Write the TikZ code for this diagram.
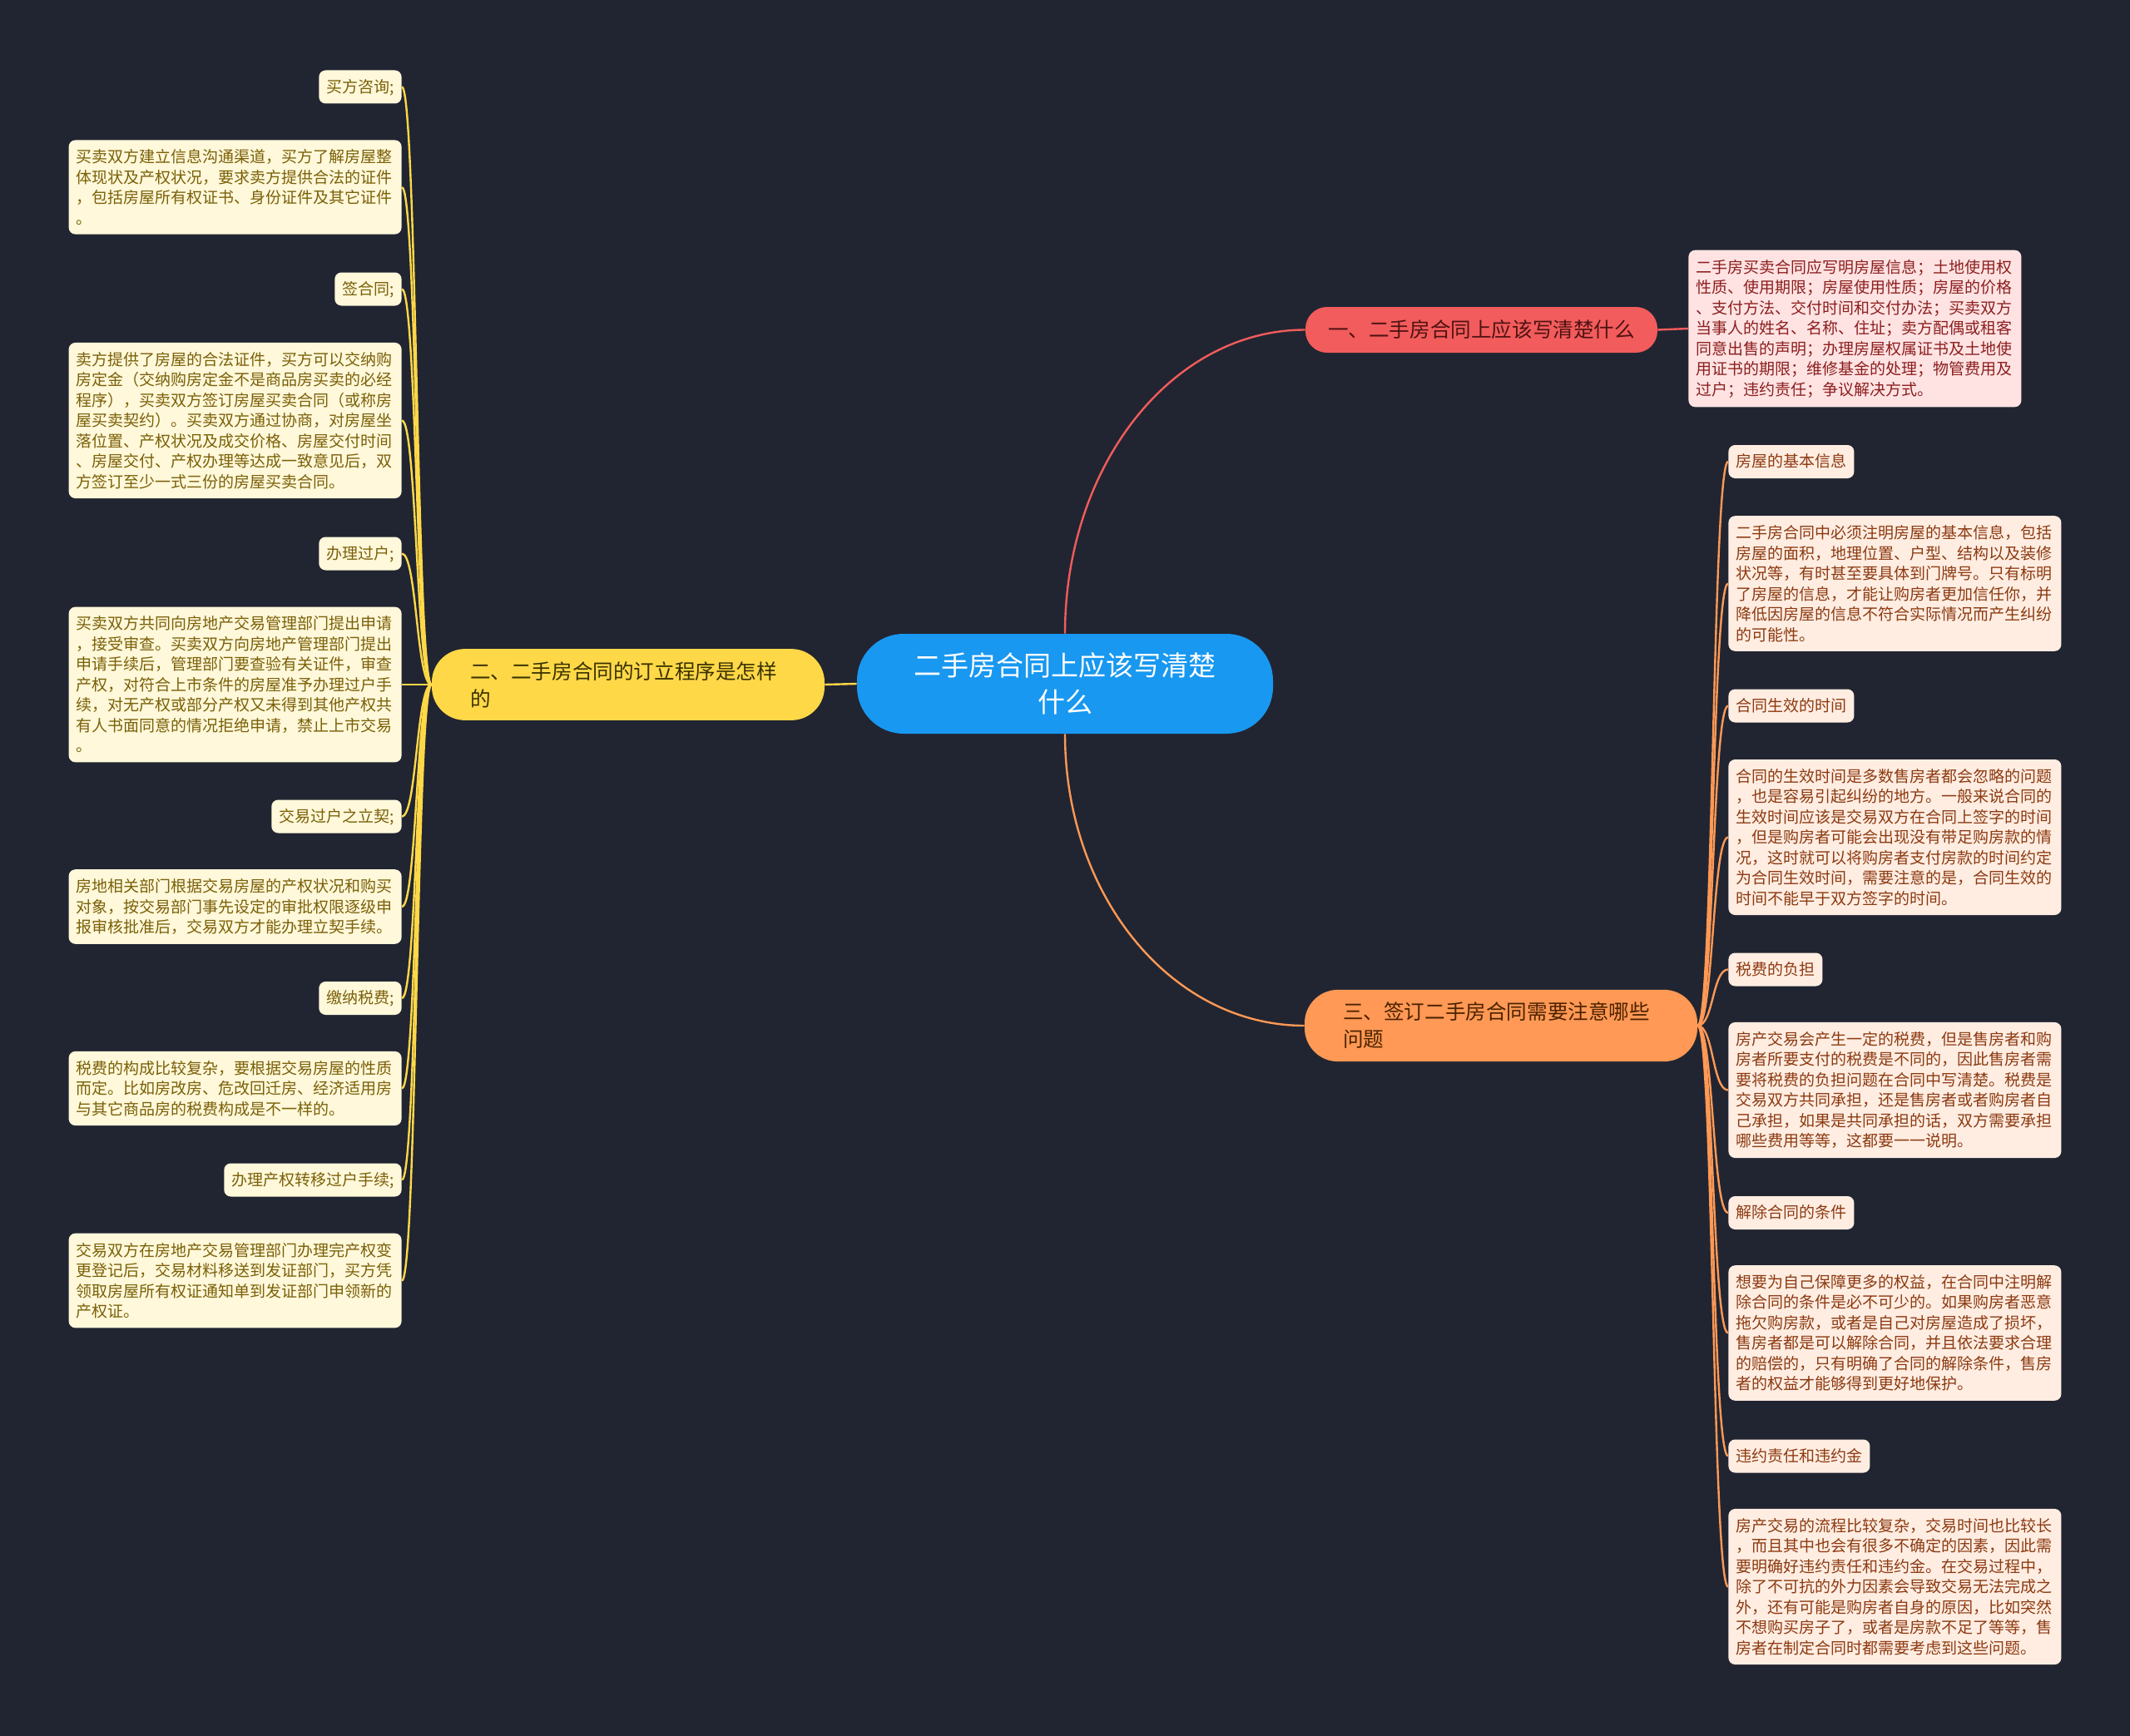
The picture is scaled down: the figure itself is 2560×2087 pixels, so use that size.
\documentclass[tikz,border=0pt]{standalone}
\usepackage{fontspec}
\setmainfont{Noto Sans CJK SC}

\definecolor{bg}{RGB}{33,37,49}
\definecolor{rootblue}{RGB}{24,152,240}
\definecolor{redtopic}{RGB}{242,92,92}
\definecolor{redleaf}{RGB}{255,227,227}
\definecolor{redtext}{RGB}{140,30,30}
\definecolor{yeltopic}{RGB}{255,216,72}
\definecolor{yelleaf}{RGB}{255,248,218}
\definecolor{yeltext}{RGB}{122,96,8}
\definecolor{orgtopic}{RGB}{255,153,85}
\definecolor{orgleaf}{RGB}{255,237,226}
\definecolor{orgtext}{RGB}{140,58,16}

\tikzset{
  rootbox/.style={fill=rootblue, text=white, rounded corners=28pt,
    minimum width=250pt, minimum height=60pt, align=center,
    font=\fontsize{16.5pt}{22pt}\selectfont},
  topic/.style={rounded corners=13pt, inner xsep=13.5pt, inner ysep=7.6pt,
    text height=10.8pt, text depth=1.5pt,
    font=\fontsize{12.3pt}{16.5pt}\selectfont},
  widetopic/.style={rounded corners=20pt, inner xsep=23pt, inner ysep=7.6pt,
    text width=190pt, align=left,
    font=\fontsize{12.3pt}{16.5pt}\selectfont},
  leaf/.style={rounded corners=4pt, inner xsep=4.5pt,
    font=\fontsize{9.5pt}{12.25pt}\selectfont},
  tag/.style={leaf, inner ysep=5pt, text height=8.4pt, text depth=1.6pt},
  note/.style={leaf, inner ysep=5.6pt, text width=191pt, align=left},
  ytag/.style={tag, fill=yelleaf, text=yeltext},
  ynote/.style={note, fill=yelleaf, text=yeltext},
  otag/.style={tag, fill=orgleaf, text=orgtext},
  onote/.style={note, fill=orgleaf, text=orgtext},
  link/.style={line width=1.2pt},
}

\begin{document}
\begin{tikzpicture}[x=0.5pt, y=-0.5pt]
  \useasboundingbox (0,0) rectangle (2560,2087);
  \fill[bg] (0,0) rectangle (2560,2087);

  % centre and main topics
  \node[rootbox] (root) at (1280,822) {二手房合同上应该写清楚\\什么};
  \node[topic, fill=redtopic, text={rgb,255:red,80;green,18;blue,18}] (t1) at (1780.5,396.5) {一、二手房合同上应该写清楚什么};
  \node[widetopic, fill=yeltopic, text={rgb,255:red,58;green,50;blue,0}] (t2) at (755,823) {二、二手房合同的订立程序是怎样\\的};
  \node[widetopic, fill=orgtopic, text={rgb,255:red,76;green,34;blue,0}] (t3) at (1804,1233) {三、签订二手房合同需要注意哪些\\问题};

  % topic one
  \node[note, fill=redleaf, text=redtext, anchor=west] (r1) at (2029,395) {二手房买卖合同应写明房屋信息；土地使用权\\性质、使用期限；房屋使用性质；房屋的价格\\、支付方法、交付时间和交付办法；买卖双方\\当事人的姓名、名称、住址；卖方配偶或租客\\同意出售的声明；办理房屋权属证书及土地使\\用证书的期限；维修基金的处理；物管费用及\\过户；违约责任；争议解决方式。};

  % topic two
  \node[ytag, anchor=east] (s1) at (483,104.5) {买方咨询;};
  \node[ynote, anchor=east] (s1d) at (483,225) {买卖双方建立信息沟通渠道，买方了解房屋整\\体现状及产权状况，要求卖方提供合法的证件\\，包括房屋所有权证书、身份证件及其它证件\\。};
  \node[ytag, anchor=east] (s2) at (483,347.5) {签合同;};
  \node[ynote, anchor=east] (s2d) at (483,505.5) {卖方提供了房屋的合法证件，买方可以交纳购\\房定金（交纳购房定金不是商品房买卖的必经\\程序），买卖双方签订房屋买卖合同（或称房\\屋买卖契约）。买卖双方通过协商，对房屋坐\\落位置、产权状况及成交价格、房屋交付时间\\、房屋交付、产权办理等达成一致意见后，双\\方签订至少一式三份的房屋买卖合同。};
  \node[ytag, anchor=east] (s3) at (483,665.5) {办理过户;};
  \node[ynote, anchor=east] (s3d) at (483,823) {买卖双方共同向房地产交易管理部门提出申请\\，接受审查。买卖双方向房地产管理部门提出\\申请手续后，管理部门要查验有关证件，审查\\产权，对符合上市条件的房屋准予办理过户手\\续，对无产权或部分产权又未得到其他产权共\\有人书面同意的情况拒绝申请，禁止上市交易\\。};
  \node[ytag, anchor=east] (s4) at (483,981.5) {交易过户之立契;};
  \node[ynote, anchor=east] (s4d) at (483,1090) {房地相关部门根据交易房屋的产权状况和购买\\对象，按交易部门事先设定的审批权限逐级申\\报审核批准后，交易双方才能办理立契手续。};
  \node[ytag, anchor=east] (s5) at (483,1200) {缴纳税费;};
  \node[ynote, anchor=east] (s5d) at (483,1308.5) {税费的构成比较复杂，要根据交易房屋的性质\\而定。比如房改房、危改回迁房、经济适用房\\与其它商品房的税费构成是不一样的。};
  \node[ytag, anchor=east] (s6) at (483,1418.5) {办理产权转移过户手续;};
  \node[ynote, anchor=east] (s6d) at (483,1539.5) {交易双方在房地产交易管理部门办理完产权变\\更登记后，交易材料移送到发证部门，买方凭\\领取房屋所有权证通知单到发证部门申领新的\\产权证。};

  % topic three
  \node[otag, anchor=west] (p1) at (2077,555) {房屋的基本信息};
  \node[onote, anchor=west] (p1d) at (2077,701.5) {二手房合同中必须注明房屋的基本信息，包括\\房屋的面积，地理位置、户型、结构以及装修\\状况等，有时甚至要具体到门牌号。只有标明\\了房屋的信息，才能让购房者更加信任你，并\\降低因房屋的信息不符合实际情况而产生纠纷\\的可能性。};
  \node[otag, anchor=west] (p2) at (2077,848.5) {合同生效的时间};
  \node[onote, anchor=west] (p2d) at (2077,1006.5) {合同的生效时间是多数售房者都会忽略的问题\\，也是容易引起纠纷的地方。一般来说合同的\\生效时间应该是交易双方在合同上签字的时间\\，但是购房者可能会出现没有带足购房款的情\\况，这时就可以将购房者支付房款的时间约定\\为合同生效时间，需要注意的是，合同生效的\\时间不能早于双方签字的时间。};
  \node[otag, anchor=west] (p3) at (2077,1165.5) {税费的负担};
  \node[onote, anchor=west] (p3d) at (2077,1310.5) {房产交易会产生一定的税费，但是售房者和购\\房者所要支付的税费是不同的，因此售房者需\\要将税费的负担问题在合同中写清楚。税费是\\交易双方共同承担，还是售房者或者购房者自\\己承担，如果是共同承担的话，双方需要承担\\哪些费用等等，这都要一一说明。};
  \node[otag, anchor=west] (p4) at (2077,1458) {解除合同的条件};
  \node[onote, anchor=west] (p4d) at (2077,1602.5) {想要为自己保障更多的权益，在合同中注明解\\除合同的条件是必不可少的。如果购房者恶意\\拖欠购房款，或者是自己对房屋造成了损坏，\\售房者都是可以解除合同，并且依法要求合理\\的赔偿的，只有明确了合同的解除条件，售房\\者的权益才能够得到更好地保护。};
  \node[otag, anchor=west] (p5) at (2077,1750.5) {违约责任和违约金};
  \node[onote, anchor=west] (p5d) at (2077,1907.5) {房产交易的流程比较复杂，交易时间也比较长\\，而且其中也会有很多不确定的因素，因此需\\要明确好违约责任和违约金。在交易过程中，\\除了不可抗的外力因素会导致交易无法完成之\\外，还有可能是购房者自身的原因，比如突然\\不想购买房子了，或者是房款不足了等等，售\\房者在制定合同时都需要考虑到这些问题。};

  % connectors
  \draw[link, redtopic] (root.north) .. controls +(0,-202) and +(-160,0) .. (t1.west);
  \draw[link, redtopic] (t1.east) -- (r1.west);
  \draw[link, yeltopic] (root.west) -- (t2.east);
  \draw[link, orgtopic] (root.south) .. controls +(0,194) and +(-160,0) .. (t3.west);
  \foreach \n in {s1,s1d,s2,s2d,s3,s3d,s4,s4d,s5,s5d,s6,s6d}
    \draw[link, yeltopic] (t2.west) .. controls +(-18,0) and +(18,0) .. (\n.east);
  \foreach \n in {p1,p1d,p2,p2d,p3,p3d,p4,p4d,p5,p5d}
    \draw[link, orgtopic] (t3.east) .. controls +(19,0) and +(-19,0) .. (\n.west);
\end{tikzpicture}
\end{document}
